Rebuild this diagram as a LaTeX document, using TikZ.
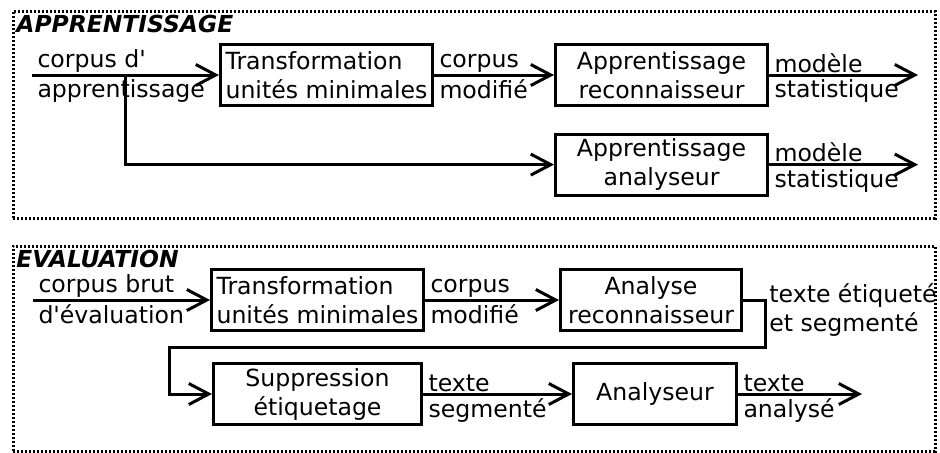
\documentclass[tikz,border=0pt]{standalone}
\usepackage{fontspec}
\setmainfont{DejaVu Sans}
\usetikzlibrary{positioning,arrows.meta,calc}

\begin{document}
\begin{tikzpicture}[
    x=0.5pt, y=-0.5pt,
    font=\fontsize{11.8}{14.5}\selectfont,
    box/.style    ={draw, line width=1.5pt, align=center,
                    minimum height=30.5pt, inner sep=2pt},
    trbox/.style  ={box, minimum width=106pt, align=left},
    frame/.style  ={draw, line width=1.4pt, dash pattern=on 1pt off 1pt,
                    anchor=north west, inner sep=0pt, minimum width=461pt},
    framelabel/.style={font=\fontsize{11.7}{13}\selectfont\bfseries\itshape,
                    anchor=north west, inner sep=1pt},
    arrow/.style  ={-{Straight Barb[length=10pt,width=10.5pt]}, line width=1.5pt},
    uplabel/.style  ={pos=0, anchor=south west, inner sep=0.5pt, xshift=1.5pt},
    downlabel/.style={pos=0, anchor=north west, inner sep=1.5pt, xshift=0.5pt}
]
\useasboundingbox (0,0) rectangle (940,452);

% --- frames ---
\node[frame, minimum height=103.5pt] (apprframe) at (12,10) {};
\node[frame, minimum height=102.5pt] (evalframe) at (12,245) {};
\node[framelabel] (apprtitle) at ([xshift=1pt,yshift=-1.5pt]apprframe.north west) {APPRENTISSAGE};
\node[framelabel] (evaltitle) at ([xshift=1pt,yshift=-1.5pt]evalframe.north west) {EVALUATION};

% --- apprentissage ---
\node[trbox] (trans1) at (326.5,75) {Transformation\\unités minimales};
\node[box, minimum width=106pt, right=60pt of trans1] (apprreco) {Apprentissage\\reconnaisseur};
\node[box, minimum width=106pt, below=12.8pt of apprreco] (appranal) {Apprentissage\\analyseur};

\coordinate (in1) at (32,75);
\coordinate (split) at ($(in1)!0.5!(trans1.west)$);
\coordinate[right=74.5pt of apprreco.east] (out1);
\coordinate[right=74.5pt of appranal.east] (out2);

\draw[arrow] (in1) -- node[uplabel]{corpus d\textquotesingle} node[downlabel]{apprentissage} (trans1);
\draw[arrow] (split) |- (appranal.west);
\draw[arrow] (trans1) -- node[uplabel]{corpus} node[downlabel]{modifié} (apprreco);
\draw[arrow] (apprreco) -- node[uplabel]{modèle} node[downlabel]{statistique} (out1);
\draw[arrow] (appranal) -- node[uplabel]{modèle} node[downlabel]{statistique} (out2);

% --- evaluation ---
\node[trbox] (trans2) at (317.5,300) {Transformation\\unités minimales};
\node[box, minimum width=90.5pt, right=67pt of trans2] (analreco) {Analyse\\reconnaisseur};
\node[box, minimum width=104pt, below=15pt of trans2] (suppr) {Suppression\\étiquetage};
\node[box, minimum width=81.5pt, right=74.5pt of suppr] (anal) {Analyseur};

\coordinate (in2) at (33,300);
\coordinate (loopleft) at ($(trans2.south west)!0.5!(suppr.north west)+(-21pt,0)$);
\coordinate[right=62pt of anal.east] (out3);

\draw[arrow] (in2) -- node[uplabel]{corpus brut} node[downlabel]{d\textquotesingle évaluation} (trans2);
\draw[arrow] (trans2) -- node[uplabel]{corpus} node[downlabel]{modifié} (analreco);
\draw[arrow] (analreco.east) -- ++(11pt,0) |- (loopleft) |- (suppr.west);
\node[align=left, anchor=west, inner sep=0pt] (etiq) at ($(analreco.east)+(13pt,-5pt)$)
    {texte étiqueté\\et segmenté};
\draw[arrow] (suppr) -- node[uplabel]{texte} node[downlabel]{segmenté} (anal);
\draw[arrow] (anal) -- node[uplabel]{texte} node[downlabel]{analysé} (out3);

\end{tikzpicture}
\end{document}
